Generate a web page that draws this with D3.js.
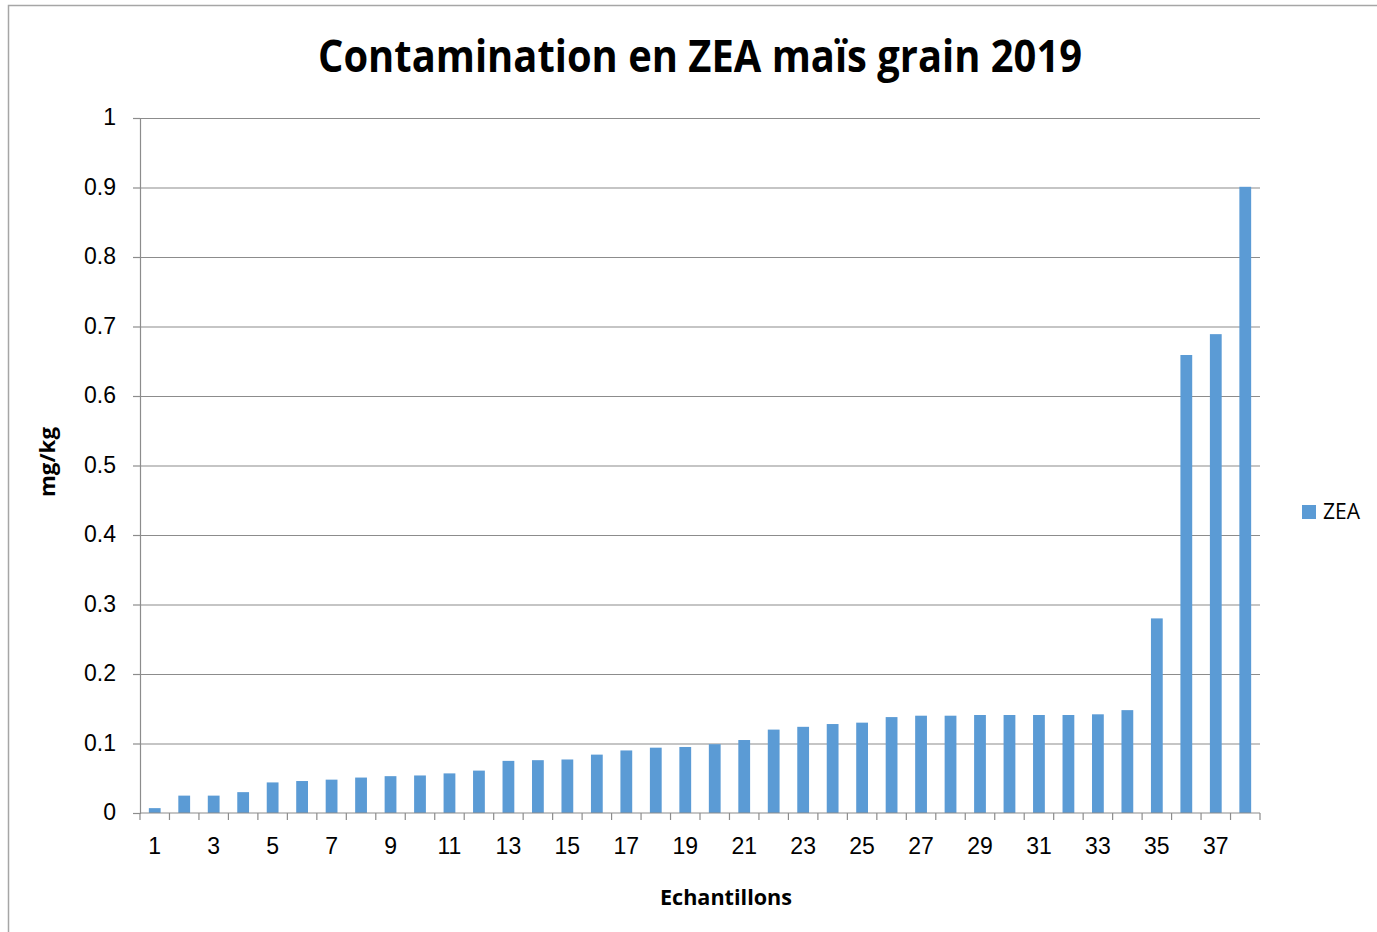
<!DOCTYPE html>
<html>
<head>
<meta charset="utf-8">
<script src="https://cdn.jsdelivr.net/npm/d3@7"></script>
<style>
  body { margin: 0; background: #fff; }
  svg { display: block; font-family: "Open Sans", "Noto Sans", sans-serif; }
</style>
</head>
<body>
<div id="chart"></div>
<script>
// Chart data
var samples = d3.range(1, 39);
var zeaValues = [
  0.007, 0.025, 0.025, 0.030, 0.044, 0.046, 0.048, 0.051, 0.053, 0.054,
  0.057, 0.061, 0.075, 0.076, 0.077, 0.084, 0.090, 0.094, 0.095, 0.099,
  0.105, 0.120, 0.124, 0.128, 0.130, 0.138, 0.140, 0.140, 0.141, 0.141,
  0.141, 0.141, 0.142, 0.148, 0.280, 0.659, 0.689, 0.901
];
var yTicks = [0, 0.1, 0.2, 0.3, 0.4, 0.5, 0.6, 0.7, 0.8, 0.9, 1];
var xLabelTicks = samples.filter(function(d) { return d % 2 === 1; });

var width = 1377, height = 932;
var plot = {left: 140, right: 1260, top: 118, bottom: 813};
var barColor = "#5b9bd5", gridColor = "#8c8c8c";

var svg = d3.select("#chart").append("svg")
    .attr("width", width)
    .attr("height", height);

// Chart frame (only top and left are visible in the picture)
svg.append("path")
    .attr("d", "M8.5," + height + "V5.5H" + width)
    .attr("fill", "none")
    .attr("stroke", "#a6a6a6")
    .attr("stroke-width", 1.5);

var x = d3.scaleBand()
    .domain(samples)
    .range([plot.left, plot.right])
    .paddingInner(0.6)
    .paddingOuter(0.3);

var y = d3.scaleLinear()
    .domain([0, 1])
    .range([plot.bottom, plot.top]);

// Gridlines
svg.append("g")
    .attr("transform", "translate(" + plot.left + ",0)")
    .call(d3.axisLeft(y).tickValues(yTicks.slice(1)).tickSize(-(plot.right - plot.left)).tickFormat(""))
    .call(function(g) { g.select(".domain").remove(); })
    .selectAll("line")
    .attr("stroke", gridColor)
    .attr("stroke-width", 1.2);

// Y axis
var yAxis = svg.append("g")
    .attr("transform", "translate(" + plot.left + ",0)")
    .call(d3.axisLeft(y).tickValues(yTicks).tickSize(7).tickPadding(17)
      .tickFormat(function(d) { return d3.format("")(+d.toFixed(1)); }));
yAxis.select(".domain").attr("stroke", gridColor).attr("stroke-width", 1.2);
yAxis.selectAll(".tick line").attr("stroke", gridColor).attr("stroke-width", 1.2);
yAxis.selectAll("text")
    .attr("fill", "#000")
    .attr("dy", "0.3em")
    .style("font-size", "23px");

// Bars
svg.append("g")
  .selectAll("rect")
  .data(zeaValues)
  .join("rect")
    .attr("x", function(d, i) { return x(samples[i]); })
    .attr("width", x.bandwidth())
    .attr("y", function(d) { return y(d); })
    .attr("height", function(d) { return y(0) - y(d); })
    .attr("fill", barColor);

// X axis: baseline, tick marks between categories, labels every other sample
var step = x.step();
var boundaries = d3.range(samples.length + 1).map(function(i) {
  return plot.left + i * step;
});
var xAxis = svg.append("g");
xAxis.append("line")
    .attr("x1", plot.left).attr("x2", plot.right)
    .attr("y1", y(0)).attr("y2", y(0))
    .attr("stroke", gridColor).attr("stroke-width", 1.2);
xAxis.selectAll(".btick")
  .data(boundaries)
  .join("line")
    .attr("class", "btick")
    .attr("x1", function(d) { return d; }).attr("x2", function(d) { return d; })
    .attr("y1", y(0)).attr("y2", y(0) + 7)
    .attr("stroke", gridColor).attr("stroke-width", 1.2);

svg.append("g")
    .attr("transform", "translate(0," + y(0) + ")")
    .call(d3.axisBottom(x).tickValues(xLabelTicks).tickSize(0).tickPadding(25))
    .call(function(g) { g.select(".domain").remove(); })
    .selectAll("text")
    .attr("fill", "#000")
    .style("font-size", "23px");

// Title
svg.append("text")
    .attr("x", 700)
    .attr("y", 72)
    .attr("text-anchor", "middle")
    .attr("textLength", 764)
    .attr("lengthAdjust", "spacingAndGlyphs")
    .style("font-size", "44px")
    .style("font-weight", "bold")
    .text("Contamination en ZEA maïs grain 2019");

// Axis titles
svg.append("text")
    .attr("x", 726)
    .attr("y", 905)
    .attr("text-anchor", "middle")
    .attr("textLength", 132)
    .attr("lengthAdjust", "spacingAndGlyphs")
    .style("font-size", "22px")
    .style("font-weight", "bold")
    .text("Echantillons");

svg.append("text")
    .attr("transform", "translate(55,462) rotate(-90)")
    .attr("text-anchor", "middle")
    .attr("textLength", 70)
    .attr("lengthAdjust", "spacingAndGlyphs")
    .style("font-size", "22px")
    .style("font-weight", "bold")
    .text("mg/kg");

// Legend
var legend = svg.append("g").attr("transform", "translate(1302,505)");
legend.append("rect")
    .attr("width", 14).attr("height", 14)
    .attr("fill", barColor);
legend.append("text")
    .attr("x", 21)
    .attr("y", 7)
    .attr("dy", "0.35em")
    .style("font-size", "21px")
    .text("ZEA");
</script>
</body>
</html>
